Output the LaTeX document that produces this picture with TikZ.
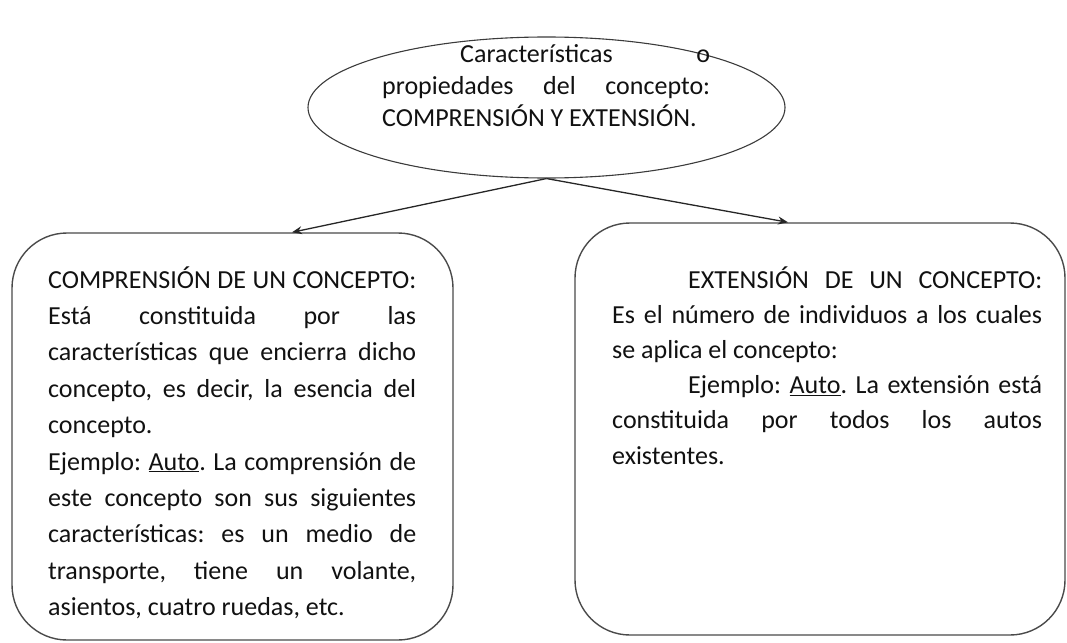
\documentclass[tikz,border=0pt]{standalone}
\usepackage{fontspec}
\setmainfont{Carlito}
\usetikzlibrary{shapes.geometric,arrows.meta}
\definecolor{linec}{HTML}{4A4A4A}
\definecolor{textc}{HTML}{111111}
\tikzset{
  boxstyle/.style={draw=linec, line width=1.4pt, rounded corners=55pt, inner sep=0pt},
  ellstyle/.style={draw=linec!80!black, line width=1.1pt, ellipse, inner sep=0pt},
  txt/.style={inner sep=0pt, anchor=base west, text=textc, font=\fontsize{26}{36.4}\selectfont},
  conn/.style={draw=black!85, line width=1.3pt, -{Stealth[length=10pt,width=8pt]}}
}
\frenchspacing
\newcommand{\jl}[2]{\makebox[#1][s]{#2}\par}
\newcommand{\nl}[1]{\mbox{#1}\par}
\begin{document}
\begin{tikzpicture}[x=1pt,y=-1pt]
\useasboundingbox (0,0) rectangle (1067,642);
% top ellipse
\node[ellstyle, minimum width=477pt, minimum height=141pt] (top) at (546.5,107.5) {};
\node[txt] (toptext) at (382,63) {\parbox[t]{328pt}{\frenchspacing\fontsize{26}{31.5}\selectfont
\jl{328pt}{\hspace*{78pt}Características o}
\jl{328pt}{propiedades del concepto:}
\nl{COMPRENSIÓN Y EXTENSIÓN.}}};
% left box
\node[boxstyle, minimum width=441pt, minimum height=407pt] (comp) at (232.5,436.5) {};
\node[txt] (comptext) at (48,288) {\parbox[t]{368pt}{\frenchspacing\fontsize{26}{36.4}\selectfont
\jl{368pt}{COMPRENSIÓN DE UN CONCEPTO:}
\jl{368pt}{Está constituida por las}
\jl{368pt}{características que encierra dicho}
\jl{368pt}{concepto, es decir, la esencia del}
\nl{concepto.}
\jl{368pt}{Ejemplo: \underline{Auto}. La comprensión de}
\jl{368pt}{este concepto son sus siguientes}
\jl{368pt}{características: es un medio de}
\jl{368pt}{transporte, tiene un volante,}
\nl{asientos, cuatro ruedas, etc.}}};
% right box
\node[boxstyle, minimum width=490pt, minimum height=412pt] (ext) at (820,429) {};
\node[txt] (exttext) at (612,288) {\parbox[t]{430pt}{\frenchspacing\fontsize{26}{35.2}\selectfont
\jl{430pt}{\hspace*{76pt}EXTENSIÓN DE UN CONCEPTO:}
\jl{430pt}{Es el número de individuos a los cuales}
\nl{se aplica el concepto:}
\jl{430pt}{\hspace*{76pt}Ejemplo: \underline{Auto}. La extensión está}
\jl{430pt}{constituida por todos los autos}
\nl{existentes.}}};
% connectors
\draw[conn] (top.south) -- ([xshift=59.5pt]comp.north);
\draw[conn] (top.south) -- ([xshift=-32pt]ext.north);
\end{tikzpicture}
\end{document}
